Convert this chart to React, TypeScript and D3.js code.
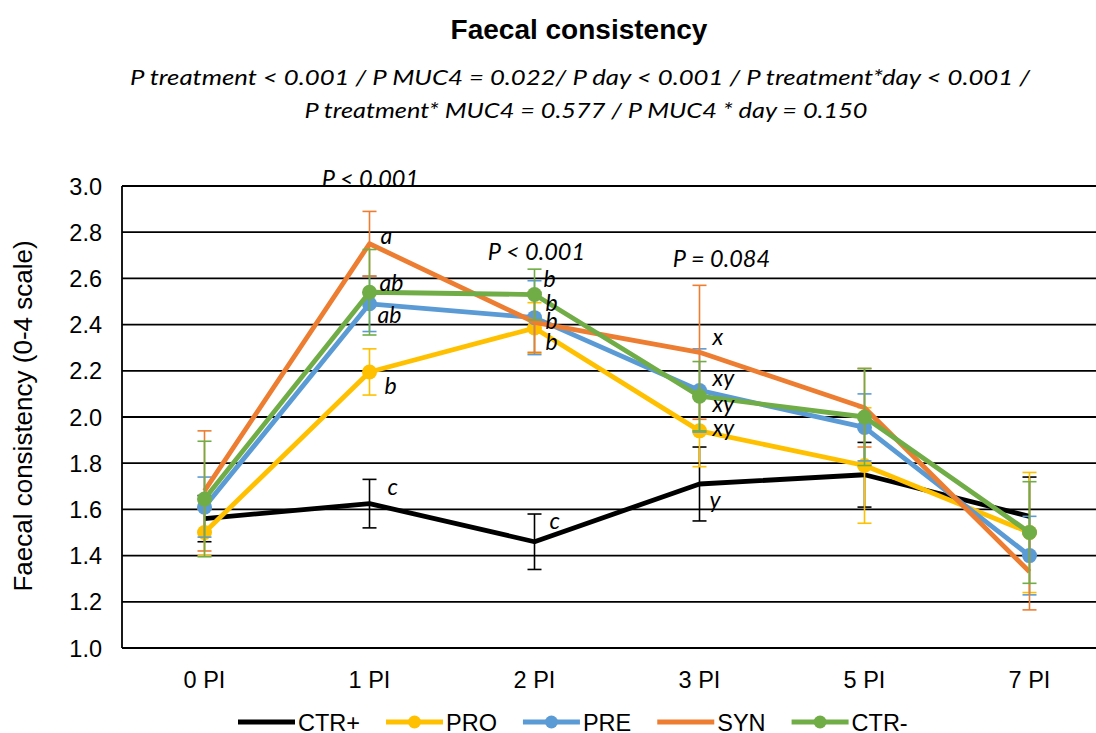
import React from "react";
import * as d3 from "d3";

const days = ["0 PI", "1 PI", "2 PI", "3 PI", "5 PI", "7 PI"];
const yTicks = [1.0, 1.2, 1.4, 1.6, 1.8, 2.0, 2.2, 2.4, 2.6, 2.8, 3.0];

const ctrPlus = [1.56, 1.625, 1.46, 1.71, 1.75, 1.57];
const ctrPlusSE = [0.1, 0.105, 0.12, 0.16, 0.14, 0.17];
const pro = [1.5, 2.195, 2.385, 1.94, 1.79, 1.5];
const proSE = [0.1, 0.1, 0.11, 0.155, 0.25, 0.26];
const pre = [1.61, 2.49, 2.43, 2.115, 1.955, 1.4];
const preSE = [0.13, 0.12, 0.16, 0.18, 0.145, 0.17];
const syn = [1.68, 2.75, 2.41, 2.28, 2.04, 1.33];
const synSE = [0.26, 0.14, 0.13, 0.29, 0.17, 0.165];
const ctrMinus = [1.645, 2.54, 2.53, 2.09, 2.0, 1.5];
const ctrMinusSE = [0.25, 0.185, 0.11, 0.15, 0.21, 0.22];

const seriesNames = ["CTR+", "PRO", "PRE", "SYN", "CTR-"];
const seriesColors = ["#000000", "#FFC000", "#5B9BD5", "#ED7D31", "#70AD47"];
const seriesMarkers = [false, true, true, false, true];
const seriesValues = [ctrPlus, pro, pre, syn, ctrMinus];
const seriesSE = [ctrPlusSE, proSE, preSE, synSE, ctrMinusSE];

// significance letters: day index, value at text centre, text, x offset
const letterDay = [1, 1, 1, 1, 1, 2, 2, 2, 2, 2, 3, 3, 3, 3, 3];
const letterY = [2.79, 2.585, 2.445, 2.14, 1.70, 2.60, 2.50, 2.42, 2.33, 1.555, 2.35, 2.175, 2.06, 1.955, 1.645];
const letterText = ["a", "ab", "ab", "b", "c", "b", "b", "b", "b", "c", "x", "xy", "xy", "xy", "y"];
const letterDx = [11, 10, 8, 15, 18, 9, 11, 11, 11, 15, 13, 13, 13, 13, 10];

const pDay = [1, 2, 3];
const pY = [3.035, 2.72, 2.69];
const pText = ["P < 0.001", "P < 0.001", "P = 0.084"];
const pDx = [1, 2, 22];

const W = 1096;
const H = 733;
const left = 122;
const bandW = 165;
const top = 186;
const bottom = 648;

function textWidth(t: string, font: string): number {
  if (typeof document === "undefined") return t.length * 13;
  const c = document.createElement("canvas").getContext("2d");
  if (!c) return t.length * 13;
  c.font = font;
  return c.measureText(t).width;
}

export default function App() {
  const x = d3
    .scaleBand<string>()
    .domain(days)
    .range([left, left + bandW * days.length])
    .padding(0);
  const cx = (i: number) => (x(days[i]) as number) + x.bandwidth() / 2;
  const y = d3.scaleLinear().domain([1.0, 3.0]).range([bottom, top]);
  const line = d3
    .line<number>()
    .x((_, i) => cx(i))
    .y((v) => y(v));

  const italic = "Lato, 'Open Sans', sans-serif";
  const arial = "'Liberation Sans', Arial, sans-serif";

  // legend layout
  const legendFont = 23.5;
  const lineLen = 57;
  const legendPos: number[] = [];
  let cur = 238;
  seriesNames.forEach((n) => {
    legendPos.push(cur);
    cur += 60 + textWidth(n, `${legendFont}px 'Liberation Sans', Arial, sans-serif`) + 26;
  });

  return (
    <svg width={W} height={H} style={{ position: "absolute", left: 0, top: 0, background: "#fff" }}>
      <rect width={W} height={H} fill="#fff" />
      <text x={579} y={39} textAnchor="middle" fontFamily={arial} fontWeight="bold" fontSize={28}>
        Faecal consistency
      </text>
      <text x={580} y={85} textAnchor="middle" fontFamily={italic} fontStyle="italic" fontSize={22}
        textLength={900} lengthAdjust="spacingAndGlyphs">
        P treatment &lt; 0.001 / P MUC4 = 0.022/ P day &lt; 0.001 / P treatment*day &lt; 0.001 /
      </text>
      <text x={586} y={118} textAnchor="middle" fontFamily={italic} fontStyle="italic" fontSize={22}
        textLength={563} lengthAdjust="spacingAndGlyphs">
        P treatment* MUC4 = 0.577 / P MUC4 * day = 0.150
      </text>

      {/* gridlines */}
      {yTicks.map((t) => (
        <line key={t} x1={left} x2={W} y1={y(t)} y2={y(t)} stroke="#000" strokeWidth={1.8} />
      ))}
      <line x1={left} x2={left} y1={top} y2={bottom} stroke="#000" strokeWidth={1.8} />

      {/* y tick labels */}
      {yTicks.map((t) => (
        <text key={"l" + t} x={102} y={y(t) + 8.5} textAnchor="end" fontFamily={arial} fontSize={23.5}>
          {t.toFixed(1)}
        </text>
      ))}
      <text transform={`translate(32,${416}) rotate(-90)`} textAnchor="middle" fontFamily={arial} fontSize={26}>
        Faecal consistency (0-4 scale)
      </text>

      {/* x tick labels */}
      {days.map((d, i) => (
        <text key={d} x={cx(i)} y={688} textAnchor="middle" fontFamily={arial} fontSize={23.5}>
          {d}
        </text>
      ))}

      {/* series */}
      {seriesValues.map((vals, s) => (
        <g key={seriesNames[s]}>
          {vals.map((v, i) => {
            const e = seriesSE[s][i];
            const X = cx(i);
            return (
              <g key={i} stroke={seriesColors[s]} strokeWidth={1.6}>
                <line x1={X} x2={X} y1={y(v - e)} y2={y(v + e)} />
                <line x1={X - 7} x2={X + 7} y1={y(v - e)} y2={y(v - e)} />
                <line x1={X - 7} x2={X + 7} y1={y(v + e)} y2={y(v + e)} />
              </g>
            );
          })}
          <path d={line(vals) || ""} fill="none" stroke={seriesColors[s]} strokeWidth={4.8} strokeLinejoin="round" />
          {seriesMarkers[s] &&
            vals.map((v, i) => <circle key={i} cx={cx(i)} cy={y(v)} r={7.5} fill={seriesColors[s]} />)}
        </g>
      ))}

      {/* letters */}
      {letterText.map((t, k) => (
        <text key={k} x={cx(letterDay[k]) + letterDx[k]} y={y(letterY[k])} dominantBaseline="central"
          fontFamily={italic} fontStyle="italic" fontSize={23}>
          {t}
        </text>
      ))}
      {pText.map((t, k) => (
        <text key={"p" + k} x={cx(pDay[k]) + pDx[k]} y={y(pY[k])} dominantBaseline="central" textAnchor="middle"
          fontFamily={italic} fontStyle="italic" fontSize={23.5}>
          {t}
        </text>
      ))}

      {/* legend */}
      {seriesNames.map((n, s) => {
        const lx = legendPos[s];
        const ly = 722;
        return (
          <g key={"lg" + n}>
            <line x1={lx} x2={lx + lineLen} y1={ly} y2={ly} stroke={seriesColors[s]} strokeWidth={5} />
            {seriesMarkers[s] && <circle cx={lx + lineLen / 2} cy={ly} r={6.5} fill={seriesColors[s]} />}
            <text x={lx + 60} y={ly + 8.5} fontFamily={arial} fontSize={legendFont}>
              {n}
            </text>
          </g>
        );
      })}
    </svg>
  );
}
